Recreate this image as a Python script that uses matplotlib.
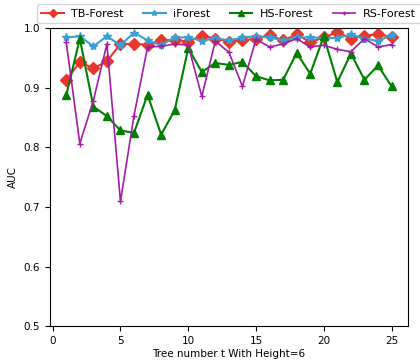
import matplotlib
matplotlib.use("Agg")
from matplotlib import pyplot as plt

# 树的数量 1..25
trees = list(range(1, 26))

tb_forest = [0.912, 0.943, 0.932, 0.944, 0.973, 0.973, 0.972, 0.979, 0.980, 0.977,
             0.987, 0.982, 0.977, 0.979, 0.982, 0.988, 0.979, 0.989, 0.976, 0.984,
             0.993, 0.982, 0.987, 0.989, 0.985]
i_forest = [0.984, 0.986, 0.969, 0.986, 0.971, 0.992, 0.979, 0.971, 0.984, 0.984,
            0.978, 0.983, 0.979, 0.984, 0.986, 0.984, 0.979, 0.984, 0.984, 0.983,
            0.983, 0.989, 0.982, 0.978, 0.988]
hs_forest = [0.887, 0.982, 0.868, 0.852, 0.828, 0.824, 0.888, 0.821, 0.862, 0.966,
             0.926, 0.941, 0.938, 0.943, 0.919, 0.912, 0.913, 0.958, 0.923, 0.986,
             0.909, 0.957, 0.913, 0.937, 0.902]
rs_forest = [0.976, 0.806, 0.878, 0.973, 0.709, 0.853, 0.968, 0.969, 0.973, 0.971,
             0.885, 0.978, 0.959, 0.902, 0.981, 0.968, 0.973, 0.982, 0.968, 0.971,
             0.964, 0.960, 0.982, 0.968, 0.972]

plt.rcParams['font.size'] = 7.5

fig = plt.figure(figsize=(4.2, 3.62), dpi=100)
ax = fig.add_axes([0.119, 0.099, 0.852, 0.824])

ax.plot(trees, tb_forest, color='#e8382b', marker='D', markersize=6, linewidth=1.5, label='TB-Forest')
ax.plot(trees, i_forest, color='#3a9fd3', marker='*', markersize=6, linewidth=1.5, label='iForest')
ax.plot(trees, hs_forest, color='green', marker='^', markersize=6, linewidth=1.5, label='HS-Forest')
ax.plot(trees, rs_forest, color='#a21ea6', marker='+', markersize=5, linewidth=1.2, label='RS-Forest')

ax.set_ylim(0.5, 1.0)
ax.set_yticks([0.5, 0.6, 0.7, 0.8, 0.9, 1.0])
ax.set_xticks([0, 5, 10, 15, 20, 25])
ax.set_xlabel('Tree number t With Height=6', labelpad=2)
ax.set_ylabel('AUC')

# 图例放在坐标轴上方
fig.legend(loc='lower left', bbox_to_anchor=(0.088, 0.936), ncol=4, markerscale=0.7,
           borderaxespad=0, columnspacing=1.75, handletextpad=0.7, fontsize=8)

plt.savefig('out.png', dpi=100)
